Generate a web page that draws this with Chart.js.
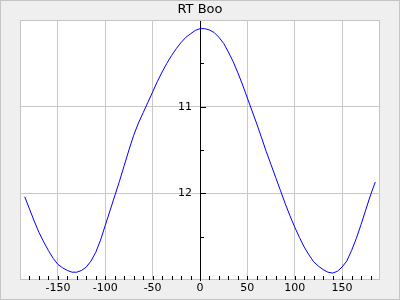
<!DOCTYPE html>
<html>
<head>
<meta charset="utf-8">
<script src="https://cdn.jsdelivr.net/npm/chart.js@4/dist/chart.umd.min.js"></script>
<style>
html,body{margin:0;padding:0;background:#efefef;}
#wrap{width:400px;height:300px;position:relative;}
canvas{display:block;}
</style>
</head>
<body>
<div id="wrap"><canvas id="c" width="400" height="300"></canvas></div>
<script>
// ---- data ----
const chartTitle = 'RT Boo';
const phase = [-185,-180,-175,-170,-165,-160,-155,-150,-145,-140,-135,-130,-125,-120,-115,-110,-105,-100,-95,-90,-85,-80,-75,-70,-65,-60,-55,-50,-45,-40,-35,-30,-25,-20,-15,-10,-5,0,5,10,15,20,25,30,35,40,45,50,55,60,65,70,75,80,85,90,95,100,105,110,115,120,125,130,135,140,145,150,155,160,165,170,175,180,185];
const mag = [12.04,12.18,12.32,12.45,12.56,12.66,12.75,12.82,12.86,12.89,12.91,12.91,12.89,12.85,12.78,12.68,12.54,12.37,12.20,12.03,11.86,11.68,11.50,11.33,11.19,11.07,10.95,10.83,10.71,10.60,10.50,10.41,10.33,10.26,10.20,10.16,10.12,10.10,10.10,10.115,10.145,10.20,10.27,10.37,10.48,10.61,10.75,10.90,11.05,11.20,11.36,11.52,11.67,11.82,11.97,12.12,12.26,12.39,12.51,12.62,12.71,12.79,12.84,12.88,12.91,12.92,12.90,12.85,12.78,12.66,12.52,12.36,12.19,12.02,11.87];
const xTickValues = [-150,-100,-50,0,50,100,150];
const xMinorTicks = [-180,-170,-160,-150,-140,-130,-120,-110,-100,-90,-80,-70,-60,-50,-40,-30,-20,-10,0,10,20,30,40,50,60,70,80,90,100,110,120,130,140,150,160,170,180];
const yTickValues = [11,12];
const yMinorTicks = [10.5,11.5,12.5];
const xRange = [-190,190];
const yRange = [10,13];

const points = phase.map((p,i)=>({x:p,y:mag[i]}));

const framePlugin = {
  id:'frame',
  beforeDraw(chart){
    const ctx = chart.ctx, a = chart.chartArea;
    ctx.save();
    ctx.fillStyle = '#efefef';
    ctx.fillRect(0,0,chart.width,chart.height);
    ctx.strokeStyle = '#c4c4c4';
    ctx.lineWidth = 1;
    ctx.strokeRect(0.5,0.5,chart.width-1,chart.height-1);
    ctx.fillStyle = '#ffffff';
    ctx.fillRect(a.left,a.top,a.right-a.left,a.bottom-a.top);
    ctx.restore();
  },
  afterDraw(chart){
    const ctx = chart.ctx, a = chart.chartArea;
    const xs = chart.scales.x, ys = chart.scales.y;
    ctx.save();
    ctx.strokeStyle = '#c4c4c4';
    ctx.lineWidth = 1;
    ctx.strokeRect(Math.round(a.left)+0.5, Math.round(a.top)+0.5, Math.round(a.right-a.left)-1, Math.round(a.bottom-a.top)-1);
    ctx.strokeStyle = '#000';
    ctx.beginPath();
    xMinorTicks.forEach(v=>{
      const px = Math.round(xs.getPixelForValue(v))+0.5;
      ctx.moveTo(px, a.bottom);
      ctx.lineTo(px, a.bottom-4);
    });
    const x0 = Math.round(xs.getPixelForValue(0));
    yTickValues.forEach(v=>{
      const py = Math.round(ys.getPixelForValue(v))+0.5;
      ctx.moveTo(x0, py); ctx.lineTo(x0+6, py);
    });
    yMinorTicks.forEach(v=>{
      const py = Math.round(ys.getPixelForValue(v))+0.5;
      ctx.moveTo(x0, py); ctx.lineTo(x0+4, py);
    });
    ctx.stroke();
    ctx.restore();
  }
};

new Chart(document.getElementById('c'), {
  type:'line',
  data:{datasets:[{
    data:points,
    borderColor:'#0000ff',
    borderWidth:1,
    pointRadius:0,
    tension:0,
    fill:false
  }]},
  options:{
    responsive:false,
    animation:false,
    devicePixelRatio:1,
    layout:{padding:{left:20,right:20,top:0,bottom:0}},
    plugins:{
      legend:{display:false},
      tooltip:{enabled:false},
      title:{display:true,text:chartTitle,color:'#000',
        font:{family:'DejaVu Sans',size:13,weight:'normal',lineHeight:1.2},
        padding:{top:2,bottom:2.4}}
    },
    scales:{
      x:{type:'linear',min:xRange[0],max:xRange[1],
        afterBuildTicks(s){ s.ticks = xTickValues.map(v=>({value:v})); },
        afterFit(s){ s.height = 20; },
        grid:{color:'#c8c8c8',drawTicks:false},
        border:{display:false},
        ticks:{color:'#000',padding:2,maxRotation:0,autoSkip:false,
          font:{family:'DejaVu Sans',size:11}}
      },
      y:{type:'linear',reverse:true,min:yRange[0],max:yRange[1],position:'center',
        afterBuildTicks(s){ s.ticks = yTickValues.map(v=>({value:v})); },
        grid:{color:'#c8c8c8',drawTicks:false},
        border:{display:true,color:'#000',width:1},
        ticks:{color:'#000',padding:8,autoSkip:false,
          font:{family:'DejaVu Sans',size:11}}
      }
    }
  },
  plugins:[framePlugin]
});
</script>
</body>
</html>
